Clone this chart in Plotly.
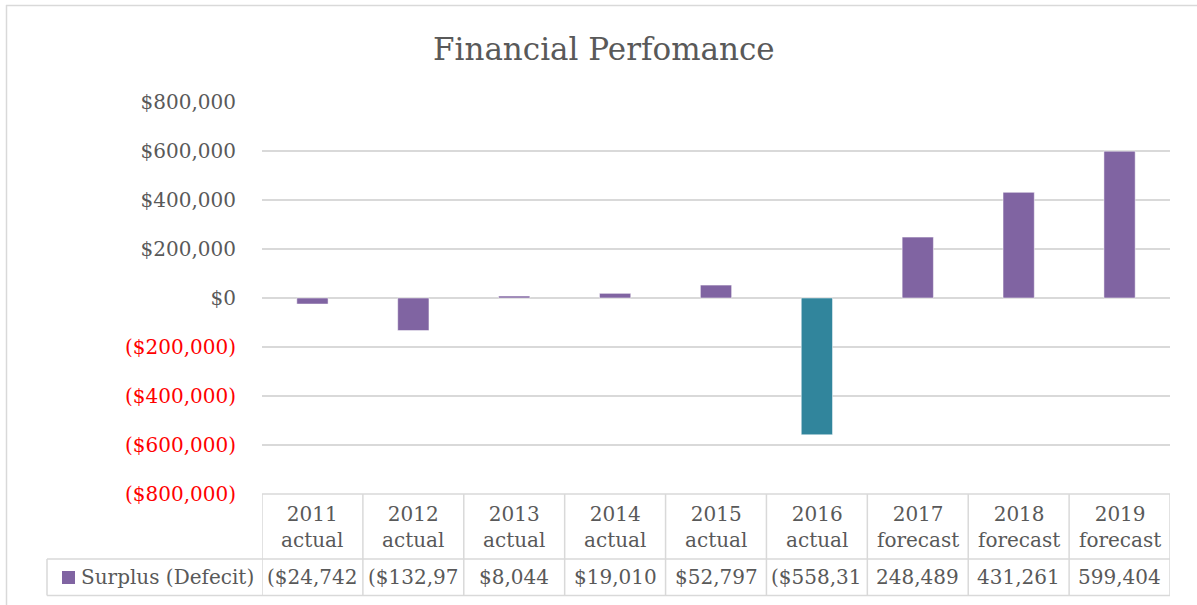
import plotly.graph_objects as go

# ---- data ----
years = ["2011", "2012", "2013", "2014", "2015", "2016", "2017", "2018", "2019"]
kinds = ["actual", "actual", "actual", "actual", "actual", "actual", "forecast", "forecast", "forecast"]
values = [-24742, -132970, 8044, 19010, 52797, -558310, 248489, 431261, 599404]
table_text = ["($24,742", "($132,97", "$8,044", "$19,010", "$52,797", "($558,31",
              "248,489", "431,261", "599,404"]
series_name = "Surplus (Defecit)"
tick_vals = [-800000, -600000, -400000, -200000, 0, 200000, 400000, 600000, 800000]
title = "Financial Perfomance"

PURPLE = "#8064A2"
TEAL = "#31859C"
GRID = "#D9D9D9"
TXT = "#595959"
FONT = "DejaVu Serif"

bar_colors = [TEAL if y == "2016" else PURPLE for y in years]

def fmt(v):
    if v < 0:
        return '<span style="color:#FF0000">(${:,})</span>'.format(-v)
    if v == 0:
        return "$0"
    return "${:,}".format(v)

tick_text = [fmt(v) for v in tick_vals]

# ---- layout geometry (pixels) ----
W, H = 1197, 605
L, R, T, B = 262, 1170, 102, 494
def px(xp):
    return (xp - L) / (R - L)
def py(yp):
    return (B - yp) / (B - T)

fig = go.Figure()
fig.add_trace(go.Bar(
    x=years, y=values, width=0.31,
    marker=dict(color=bar_colors, line=dict(color="rgba(255,255,255,0.5)", width=1)),
    name=series_name, showlegend=False,
))

shapes = []
line = dict(color=GRID, width=1.5)
ROW1, ROW2 = 559, 595.5
# table horizontal lines
shapes.append(dict(type="line", xref="paper", yref="paper", x0=px(L), x1=px(R), y0=py(B), y1=py(B), line=line))
shapes.append(dict(type="line", xref="paper", yref="paper", x0=px(47), x1=px(R), y0=py(ROW1), y1=py(ROW1), line=line))
shapes.append(dict(type="line", xref="paper", yref="paper", x0=px(47), x1=px(R), y0=py(ROW2), y1=py(ROW2), line=line))
shapes.append(dict(type="line", xref="paper", yref="paper", x0=px(47), x1=px(47), y0=py(ROW1), y1=py(ROW2), line=line))
# vertical column boundaries
for i in range(len(years) + 1):
    shapes.append(dict(type="line", xref="x", yref="paper", x0=i - 0.5, x1=i - 0.5,
                       y0=py(B), y1=py(ROW2), line=line))
# legend key square
shapes.append(dict(type="rect", xref="paper", yref="paper", x0=px(62), x1=px(75),
                   y0=py(584), y1=py(571), fillcolor=PURPLE, line=dict(width=0)))
# outer chart border (top & left visible)
shapes.append(dict(type="line", xref="paper", yref="paper", x0=px(6), x1=px(W + 5),
                   y0=py(5.5), y1=py(5.5), line=dict(color=GRID, width=1.5)))
shapes.append(dict(type="line", xref="paper", yref="paper", x0=px(6.5), x1=px(6.5),
                   y0=py(5), y1=py(H + 5), line=dict(color=GRID, width=1.5)))

annotations = []
for i, (y, k, t) in enumerate(zip(years, kinds, table_text)):
    annotations.append(dict(x=i, xref="x", yref="paper", y=py(527), text=y + "<br>" + k,
                            showarrow=False, font=dict(family=FONT, size=20, color=TXT),
                            xanchor="center", yanchor="middle", align="center"))
    annotations.append(dict(x=i, xref="x", yref="paper", y=py(577), text=t,
                            showarrow=False, font=dict(family=FONT, size=20, color=TXT),
                            xanchor="center", yanchor="middle"))
annotations.append(dict(x=px(79), xref="paper", yref="paper", y=py(577), text=series_name,
                        showarrow=False, font=dict(family=FONT, size=20, color=TXT),
                        xanchor="left", yanchor="middle"))
annotations.append(dict(x=px(604), xref="paper", yref="paper", y=py(49), text=title,
                        showarrow=False, font=dict(family=FONT, size=31, color=TXT),
                        xanchor="center", yanchor="middle"))

fig.update_layout(
    width=W, height=H,
    margin=dict(l=L, r=W - R, t=T, b=H - B, pad=0),
    paper_bgcolor="white", plot_bgcolor="white",
    font=dict(family=FONT, size=20, color=TXT),
    shapes=shapes, annotations=annotations,
    xaxis=dict(type="category", showticklabels=False, showgrid=False, zeroline=False,
               showline=False, range=[-0.5, len(years) - 0.5], fixedrange=True),
    yaxis=dict(range=[-800000, 800000], tickvals=tick_vals, ticktext=tick_text,
               showgrid=True, gridcolor=GRID, gridwidth=1.5, zeroline=True,
               zerolinecolor=GRID, zerolinewidth=1.5, showline=False, ticks="",
               ticklabelstandoff=25, tickfont=dict(family=FONT, size=20, color=TXT)),
    showlegend=False,
)

fig.write_html("out.html", config={"displayModeBar": False},
               post_script="document.body.style.margin='0';document.body.style.overflow='hidden';")
